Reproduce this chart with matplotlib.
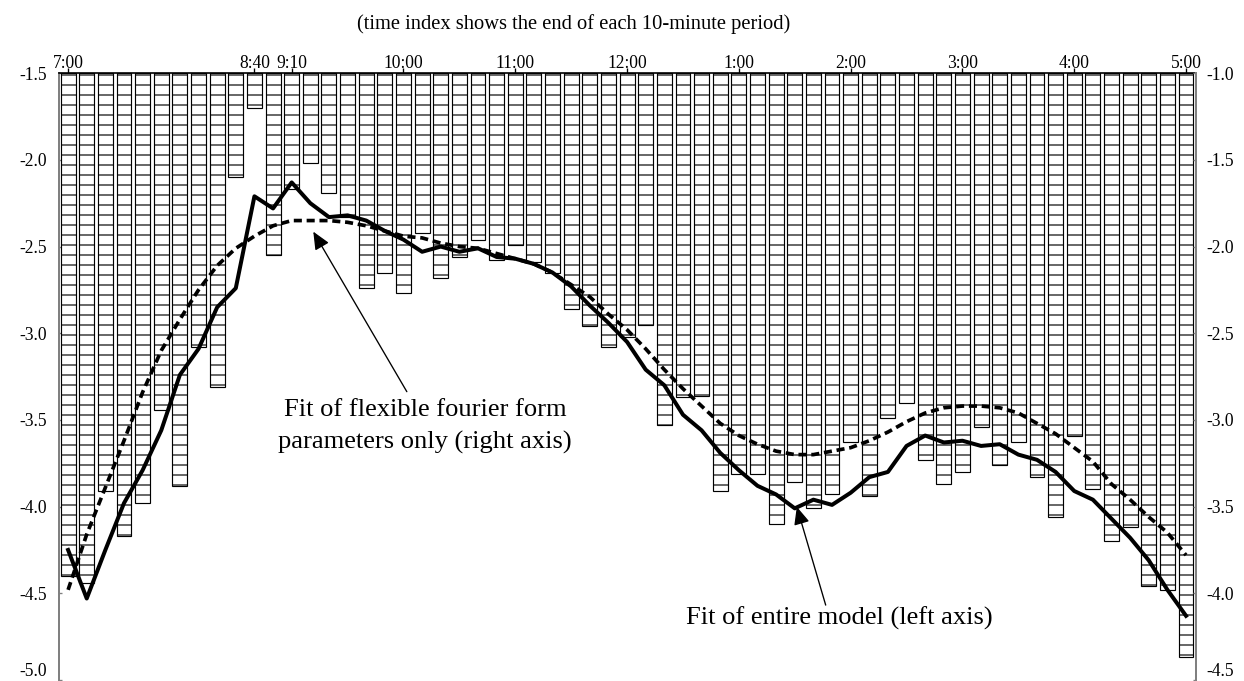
"""
Intraday pattern chart
bars = observed values per 10-minute period, lines = model fits
"""

import numpy as np
import matplotlib
matplotlib.use('Agg')  # Non-interactive backend
import matplotlib.pyplot as plt

plt.rcParams['font.family'] = ['Liberation Serif', 'DejaVu Serif']
plt.rcParams['hatch.linewidth'] = 0.7

# tick labels on the top axis (position = period index)
tick_idx = [0, 10, 12, 18, 24, 30, 36, 42, 48, 54, 60]
tick_labels = ['7:00', '8:40', '9:10', '10:00', '11:00', '12:00',
               '1:00', '2:00', '3:00', '4:00', '5:00']

# bottom end of each hanging bar (left axis units), bars hang from -1.5
bar_bottom = [
    -4.40, -4.44, -3.91, -4.17, -3.98, -3.44, -3.88, -3.08, -3.31, -2.10,
    -1.70, -2.55, -2.17, -2.02, -2.19, -2.33, -2.74, -2.65, -2.77, -2.42,
    -2.68, -2.56, -2.46, -2.58, -2.49, -2.59, -2.65, -2.86, -2.96, -3.08,
    -3.02, -2.95, -3.53, -3.37, -3.36, -3.91, -3.81, -3.81, -4.10, -3.86,
    -4.01, -3.93, -3.63, -3.94, -3.49, -3.40, -3.73, -3.87, -3.80, -3.54,
    -3.76, -3.63, -3.83, -4.06, -3.59, -3.90, -4.20, -4.12, -4.46, -4.48,
    -4.87,
]

# fit of entire model (left axis)
fit_entire = [
    -4.25, -4.53, -4.25, -3.98, -3.79, -3.56, -3.24, -3.09, -2.85, -2.74,
    -2.21, -2.28, -2.13, -2.25, -2.33, -2.32, -2.35, -2.41, -2.46, -2.53,
    -2.50, -2.53, -2.51, -2.56, -2.57, -2.60, -2.65, -2.73, -2.84, -2.94,
    -3.05, -3.21, -3.30, -3.47, -3.56, -3.69, -3.79, -3.88, -3.93, -4.01,
    -3.96, -3.99, -3.92, -3.83, -3.80, -3.65, -3.59, -3.63, -3.62, -3.65,
    -3.64, -3.70, -3.73, -3.80, -3.91, -3.96, -4.07, -4.18, -4.31, -4.48,
    -4.63,
]

# fit of flexible fourier form parameters only (right axis)
fit_fff = [
    -3.98, -3.66, -3.39, -3.12, -2.84, -2.60, -2.42, -2.25, -2.11, -2.01,
    -1.94, -1.88, -1.85, -1.85, -1.85, -1.86, -1.88, -1.91, -1.94, -1.95,
    -1.98, -2.00, -2.01, -2.04, -2.07, -2.10, -2.15, -2.22, -2.29, -2.39,
    -2.48, -2.59, -2.71, -2.82, -2.92, -3.02, -3.09, -3.14, -3.18, -3.20,
    -3.20, -3.18, -3.16, -3.12, -3.07, -3.01, -2.96, -2.93, -2.92, -2.92,
    -2.93, -2.96, -3.02, -3.08, -3.16, -3.24, -3.37, -3.46, -3.56, -3.65,
    -3.78,
]

BAR_TOP = -1.5
GRAY = '#808080'

x = np.arange(len(bar_bottom))

fig = plt.figure(figsize=(1244 / 120, 681 / 120), dpi=120)
ax = fig.add_axes([0.0477, 0.0015, 0.9135, 0.891])

# 박스 모양 바 (위에서 아래로)
heights = np.array(bar_bottom) - BAR_TOP
ax.bar(x, heights, bottom=BAR_TOP, width=0.8, color='white',
       edgecolor='black', linewidth=0.7, hatch='--', zorder=2)

ax.plot(x, fit_entire, color='black', linewidth=2.4, zorder=4)

ax.set_xlim(-0.47, 60.52)
ax.set_ylim(-5.0, -1.5)
left_ticks = np.arange(-5.0, -1.49, 0.5)
ax.set_yticks(left_ticks)
ax.set_yticklabels([f'{v:.1f}' for v in left_ticks])

ax.xaxis.tick_top()
ax.set_xticks(tick_idx)
ax.set_xticklabels(tick_labels)
ax.tick_params(axis='x', direction='inout', length=6, width=0.8,
               pad=-2.5, labelsize=10.5, colors='black')
ax.tick_params(axis='y', direction='in', length=2, width=0.8,
               color=GRAY, pad=7.5, labelsize=10.5)

for side in ['right', 'bottom']:
    ax.spines[side].set_visible(False)
ax.spines['left'].set_color(GRAY)
ax.spines['left'].set_linewidth(1.2)
ax.spines['top'].set_color('black')
ax.spines['top'].set_linewidth(1.0)

# 오른쪽 축
ax2 = ax.twinx()
ax2.plot(x, fit_fff, color='black', linewidth=2.2,
         linestyle=(0, (2.2, 1.3)), zorder=4)
ax2.set_ylim(-4.5, -1.0)
right_ticks = np.arange(-4.5, -0.99, 0.5)
ax2.set_yticks(right_ticks)
ax2.set_yticklabels([f'{v:.1f}' for v in right_ticks])
ax2.tick_params(axis='y', direction='in', length=2, width=0.8,
                color=GRAY, pad=6.6, labelsize=10.5)
for side in ['left', 'top', 'bottom']:
    ax2.spines[side].set_visible(False)
ax2.spines['right'].set_color(GRAY)
ax2.spines['right'].set_linewidth(1.2)

# 맨 아래 라벨은 잘리지 않게 위로
ax.get_yticklabels()[0].set_va('bottom')
ax2.get_yticklabels()[0].set_va('bottom')

# 주석 화살표
arrow = dict(arrowstyle='-|>,head_length=0.45,head_width=0.2',
             mutation_scale=20, color='black', lw=0.8,
             shrinkA=0, shrinkB=0)
ax.annotate('', xy=(13.16, -2.414), xytext=(18.18, -3.337),
            arrowprops=arrow, zorder=5)
ax.text(19.16, -3.538, 'Fit of flexible fourier form\nparameters only (right axis)',
        ha='center', va='center', fontsize=15.9, linespacing=1.55, zorder=5)

ax.annotate('', xy=(39.11, -4.001), xytext=(40.66, -4.568),
            arrowprops=arrow, zorder=5)
ax.text(41.41, -4.643, 'Fit of entire model (left axis)',
        ha='center', va='center', fontsize=15.9, zorder=5)

fig.text(573.3 / 1244, 1 - 24 / 681,
         '(time index shows the end of each 10-minute period)',
         ha='center', va='center', fontsize=12.3)

fig.savefig('out.png', dpi=120)
